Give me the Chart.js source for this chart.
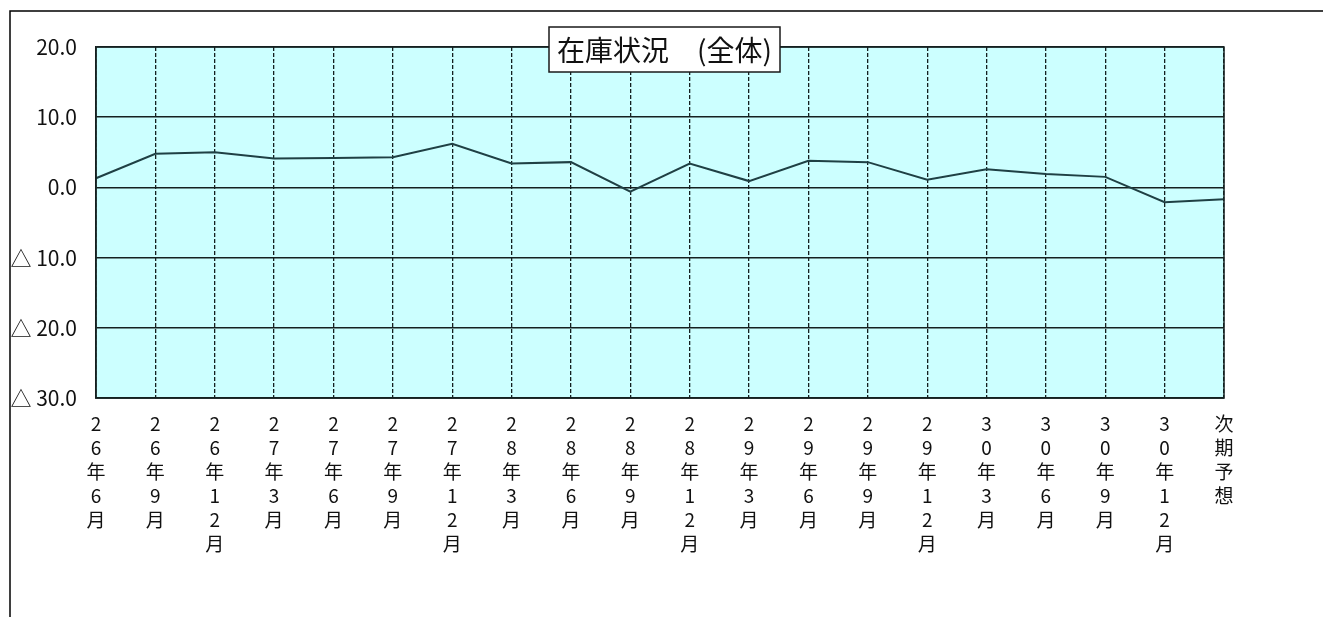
<!DOCTYPE html>
<html lang="ja">
<head>
<meta charset="utf-8">
<title>在庫状況（全体）</title>
<script src="https://cdn.jsdelivr.net/npm/chart.js@4/dist/chart.umd.min.js"></script>
<style>
    html, body { margin: 0; padding: 0; background: #ffffff; }
    #stock-chart { display: block; }
</style>
</head>
<body>
<canvas id="stock-chart" width="1323" height="617"></canvas>
<script>
const chartTitle = '在庫状況　(全体)';

const periodLabels = [
    '26年6月', '26年9月', '26年12月', '27年3月', '27年6月', '27年9月', '27年12月',
    '28年3月', '28年6月', '28年9月', '28年12月', '29年3月', '29年6月', '29年9月',
    '29年12月', '30年3月', '30年6月', '30年9月', '30年12月', '次期予想'
];

const stockValues = [
    1.3, 4.8, 5.0, 4.1, 4.2, 4.3, 6.2,
    3.4, 3.6, -0.6, 3.4, 0.9, 3.8, 3.6,
    1.1, 2.6, 1.9, 1.5, -2.1, -1.7
];

const yTicks = [20, 10, 0, -10, -20, -30];
const yTickLabels = ['20.0', '10.0', '0.0', '△ 10.0', '△ 20.0', '△ 30.0'];

const lineColor = '#1f4044';
const gridColor = '#152020';
const plotColor = '#ccffff';

// plot background, solid frame, outer border and the boxed title
const chartDecorations = {
    id: 'chartDecorations',
    beforeDraw: (chart) => {
        const { ctx, chartArea } = chart;
        ctx.save();
        ctx.fillStyle = plotColor;
        ctx.fillRect(chartArea.left, chartArea.top, chartArea.right - chartArea.left, chartArea.bottom - chartArea.top);
        ctx.restore();
    },
    afterDraw: (chart) => {
        const { ctx, chartArea, width, height } = chart;
        ctx.save();

        ctx.strokeStyle = gridColor;
        ctx.lineWidth = 1.5;
        ctx.strokeRect(chartArea.left, chartArea.top, chartArea.right - chartArea.left, chartArea.bottom - chartArea.top);

        ctx.strokeStyle = '#000000';
        ctx.lineWidth = 1.5;
        ctx.beginPath();
        ctx.moveTo(width, 11);
        ctx.lineTo(10, 11);
        ctx.lineTo(10, height);
        ctx.stroke();

        const boxX = 549, boxY = 27, boxW = 231, boxH = 45;
        ctx.fillStyle = '#ffffff';
        ctx.fillRect(boxX, boxY, boxW, boxH);
        ctx.strokeStyle = '#1a1a1a';
        ctx.lineWidth = 1.5;
        ctx.strokeRect(boxX, boxY, boxW, boxH);

        ctx.fillStyle = '#111111';
        ctx.font = '28px "Noto Sans CJK JP"';
        ctx.textAlign = 'center';
        ctx.textBaseline = 'middle';
        ctx.fillText(chartTitle, boxX + boxW / 2, boxY + boxH / 2 + 1);
        ctx.restore();
    }
};

const setupAndInitChart = () => {
    new Chart(document.querySelector('#stock-chart'), {
        type: 'line',
        data: {
            labels: periodLabels.map((label) => label.split('')),
            datasets: [
                {
                    label: chartTitle,
                    data: stockValues,
                    borderColor: lineColor,
                    borderWidth: 2,
                    pointRadius: 0,
                    tension: 0,
                    fill: false
                }
            ]
        },
        options: {
            responsive: false,
            animation: false,
            layout: {
                padding: { top: 47, right: 99, bottom: 0, left: 0 }
            },
            plugins: {
                legend: { display: false },
                tooltip: { enabled: false }
            },
            scales: {
                x: {
                    offset: false,
                    afterFit: (scale) => { scale.height = 219; },
                    grid: {
                        color: gridColor,
                        lineWidth: 1.3,
                        drawTicks: false
                    },
                    border: {
                        display: true,
                        color: gridColor,
                        width: 1.5,
                        dash: [4, 2]
                    },
                    ticks: {
                        autoSkip: false,
                        maxRotation: 0,
                        minRotation: 0,
                        padding: 14,
                        color: '#111111',
                        font: { family: '"Noto Sans CJK JP"', size: 19, lineHeight: '24px' }
                    }
                },
                y: {
                    min: -30,
                    max: 20,
                    afterFit: (scale) => { scale.width = 96; },
                    grid: {
                        color: gridColor,
                        lineWidth: 1.5,
                        drawTicks: false
                    },
                    border: {
                        display: true,
                        color: gridColor,
                        width: 1.5
                    },
                    ticks: {
                        stepSize: 10,
                        padding: 19,
                        color: '#111111',
                        font: { family: '"Noto Sans CJK JP"', size: 21 },
                        callback: (value) => yTickLabels[yTicks.indexOf(value)]
                    }
                }
            }
        },
        plugins: [chartDecorations]
    });
}

setupAndInitChart();
</script>
</body>
</html>
